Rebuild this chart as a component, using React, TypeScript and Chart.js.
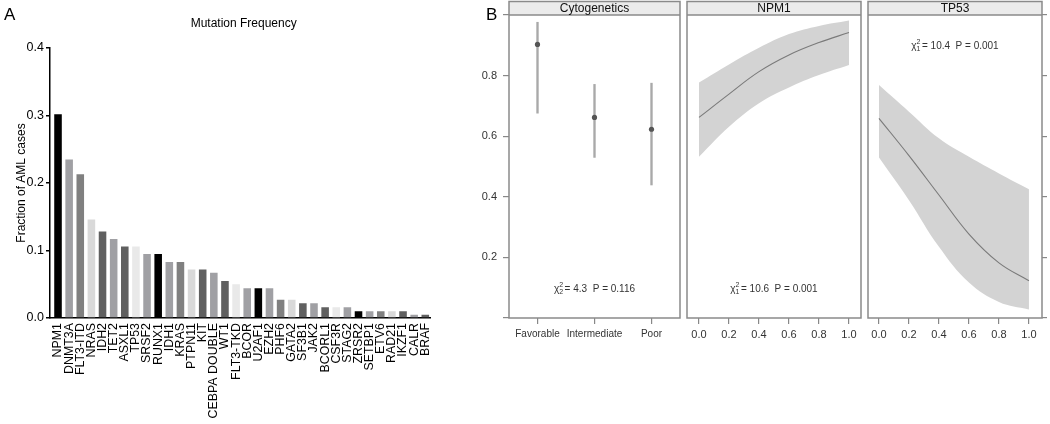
import React, { useEffect, useRef } from 'react';
import { Chart, registerables } from 'chart.js';

Chart.register(...registerables);

const FONT = "'Liberation Sans', Arial, Helvetica, sans-serif";

// ---------- Panel A data ----------
const genes = ['NPM1', 'DNMT3A', 'FLT3-ITD', 'NRAS', 'IDH2', 'TET2', 'ASXL1', 'TP53', 'SRSF2', 'RUNX1', 'IDH1', 'KRAS', 'PTPN11', 'KIT', 'CEBPA DOUBLE', 'WT1', 'FLT3-TKD', 'BCOR', 'U2AF1', 'EZH2', 'PHF6', 'GATA2', 'SF3B1', 'JAK2', 'BCORL1', 'CSF3R', 'STAG2', 'ZRSR2', 'SETBP1', 'ETV6', 'RAD21', 'IKZF1', 'CALR', 'BRAF'];
const frequencies = [0.302, 0.235, 0.213, 0.146, 0.128, 0.117, 0.106, 0.106, 0.095, 0.095, 0.083, 0.083, 0.072, 0.072, 0.067, 0.055, 0.050, 0.044, 0.044, 0.044, 0.027, 0.027, 0.022, 0.022, 0.016, 0.016, 0.016, 0.010, 0.010, 0.010, 0.010, 0.010, 0.005, 0.005];
const barShades = ['#000000', '#a0a0a4', '#808080', '#d9d9d9', '#606060', '#a0a0a4', '#606060', '#e9e9e9', '#a0a0a4'];
const freqTicks = [0, 0.1, 0.2, 0.3, 0.4];

// ---------- Panel B data ----------
const panelTitles = ['Cytogenetics', 'NPM1', 'TP53'];
const cytoGroups = ['Favorable', 'Intermediate', 'Poor'];
const cytoEstimate = [0.903, 0.662, 0.623];
const cytoLower = [0.676, 0.530, 0.439];
const cytoUpper = [0.976, 0.771, 0.775];

const vafGrid = [0, 0.2, 0.4, 0.6, 0.8, 1.0];
const npm1Fit = [0.662, 0.739, 0.813, 0.868, 0.909, 0.942];
const npm1Lower = [0.532, 0.631, 0.709, 0.761, 0.802, 0.835];
const npm1Upper = [0.777, 0.837, 0.892, 0.937, 0.964, 0.982];
const tp53Fit = [0.659, 0.536, 0.406, 0.277, 0.182, 0.123];
const tp53Lower = [0.530, 0.389, 0.235, 0.117, 0.053, 0.028];
const tp53Upper = [0.769, 0.681, 0.593, 0.532, 0.477, 0.425];

const probTicks = [0, 0.2, 0.4, 0.6, 0.8, 1.0];
const vafTicks = [0, 0.2, 0.4, 0.6, 0.8, 1.0];

const chiDf = ['2', '1', '1'];
const chiSq = ['4.3', '10.6', '10.4'];
const pValues = ['0.116', '0.001', '0.001'];

// annotation vertical anchors (in probability units)
const annotLevel = [0.098, 0.098, 0.9];

const FRAME = '#8a8a8a';
const TICK = '#888888';
const LABEL = '#333333';

const stripPlugin = {
  id: 'strip',
  beforeDraw(chart: any) {
    const { ctx, chartArea: a } = chart;
    ctx.save();
    ctx.fillStyle = '#ebebeb';
    ctx.fillRect(a.left, 1.5, a.right - a.left, a.top - 1.5);
    ctx.restore();
  },
  afterDraw(chart: any, _a: any, opts: any) {
    const { ctx, chartArea: a } = chart;
    ctx.save();
    ctx.strokeStyle = FRAME;
    ctx.lineWidth = 1.5;
    ctx.strokeRect(a.left, 1.5, a.right - a.left, a.bottom - 1.5);
    ctx.beginPath();
    ctx.moveTo(a.left, a.top);
    ctx.lineTo(a.right, a.top);
    ctx.stroke();
    // strip title
    ctx.fillStyle = '#111';
    ctx.font = `12px ${FONT}`;
    ctx.textAlign = 'center';
    ctx.textBaseline = 'middle';
    ctx.fillText(opts.title, (a.left + a.right) / 2, (1.5 + a.top) / 2 + 0.5);
    // chi-square annotation
    const cy = chart.scales.y.getPixelForValue(opts.level);
    const cx = (a.left + a.right) / 2;
    ctx.textAlign = 'left';
    ctx.textBaseline = 'alphabetic';
    ctx.fillStyle = LABEL;
    ctx.font = `10px ${FONT}`;
    const wChi = ctx.measureText('\u03c7').width;
    const rest = `= ${opts.chi}  P = ${opts.p}`;
    const wRest = ctx.measureText(rest).width;
    ctx.font = `7px ${FONT}`;
    const wScr = Math.max(ctx.measureText('2').width, ctx.measureText(opts.df).width);
    const total = wChi + wScr + 1.5 + wRest;
    let x = cx - total / 2;
    const base = cy + 3.5;
    ctx.font = `10px ${FONT}`;
    ctx.fillText('\u03c7', x, base);
    x += wChi;
    ctx.font = `7px ${FONT}`;
    ctx.fillText('2', x, base - 4.5);
    ctx.fillText(opts.df, x, base + 2.5);
    x += wScr + 1.5;
    ctx.font = `10px ${FONT}`;
    ctx.fillText(rest, x, base);
    ctx.restore();
  },
};

const setTicks = (vals: number[]) => (s: any) => {
  s.ticks = vals.map((v) => ({ value: v }));
};

function panelYScale(kind: 'left' | 'none' | 'right') {
  const base: any = {
    min: 0,
    max: 1,
    bounds: 'data',
    afterBuildTicks: setTicks(probTicks),
    grid: { drawOnChartArea: false, drawTicks: true, tickLength: kind === 'right' ? 5 : 6, color: TICK, lineWidth: 1.2 },
    border: { display: false },
  };
  if (kind === 'none') return { ...base, display: false };
  if (kind === 'right') {
    return { ...base, position: 'right', ticks: { display: false }, afterFit: (s: any) => { s.width = 8; } };
  }
  return {
    ...base,
    position: 'left',
    afterFit: (s: any) => { s.width = 29; },
    ticks: {
      padding: 6,
      color: LABEL,
      font: { family: FONT, size: 11 },
      callback: (v: any) => (v > 0.01 && v < 0.99 ? Number(v).toFixed(1) : ''),
    },
  };
}

function vafXScale(min: number, max: number) {
  return {
    type: 'linear',
    min,
    max,
    bounds: 'data',
    afterBuildTicks: setTicks(vafTicks),
    afterFit: (s: any) => { s.height = 32; },
    grid: { drawOnChartArea: false, drawTicks: true, tickLength: 6, color: TICK, lineWidth: 1.2 },
    border: { display: false },
    ticks: { padding: 4, maxRotation: 0, color: LABEL, font: { family: FONT, size: 11 }, callback: (v: any) => Number(v).toFixed(1) },
  };
}

function curveConfig(fit: number[], lower: number[], upper: number[], idx: number, xmin: number, xmax: number, pad: any, yKind: 'none' | 'right') {
  const pts = (arr: number[]) => vafGrid.map((x, i) => ({ x, y: arr[i] }));
  return {
    type: 'line',
    data: {
      datasets: [
        { data: pts(fit), borderWidth: 1.1, borderColor: '#7a7a7a', pointRadius: 0, fill: false, tension: 0.4 },
        { data: pts(upper), borderWidth: 0, pointRadius: 0, fill: '+1', backgroundColor: '#d3d3d3', tension: 0.4 },
        { data: pts(lower), borderWidth: 0, pointRadius: 0, fill: false, tension: 0.4 },
      ],
    },
    options: {
      responsive: false,
      animation: false,
      layout: { padding: pad },
      plugins: {
        legend: { display: false },
        tooltip: { enabled: false },
        strip: { title: panelTitles[idx], df: chiDf[idx], chi: chiSq[idx], p: pValues[idx], level: annotLevel[idx] },
      },
      scales: { x: vafXScale(xmin, xmax), y: panelYScale(yKind) },
    },
    plugins: [stripPlugin],
  } as any;
}

export default function App() {
  const refA = useRef<HTMLCanvasElement>(null);
  const ref1 = useRef<HTMLCanvasElement>(null);
  const ref2 = useRef<HTMLCanvasElement>(null);
  const ref3 = useRef<HTMLCanvasElement>(null);

  useEffect(() => {
    const charts: Chart[] = [];

    charts.push(
      new Chart(refA.current!, {
        type: 'bar',
        data: {
          datasets: [
            {
              data: frequencies.map((v, i) => ({ x: i, y: v })),
              backgroundColor: frequencies.map((_, i) => barShades[i % barShades.length]),
              barPercentage: 0.68,
              categoryPercentage: 1,
              borderWidth: 0,
            },
          ],
        },
        options: {
          responsive: false,
          animation: false,
          layout: { padding: { top: 48, right: 19.7, bottom: 0, left: 0 } },
          plugins: { legend: { display: false }, tooltip: { enabled: false } },
          scales: {
            x: {
              type: 'linear',
              min: -0.72,
              max: 33.45,
              offset: false,
              bounds: 'data',
              afterBuildTicks: setTicks(genes.map((_, i) => i)),
              afterFit: (s: any) => { s.height = 106; },
              grid: { display: true, drawOnChartArea: false, drawTicks: false },
              border: { display: true, color: '#000', width: 1.5 },
              ticks: {
                autoSkip: false,
                maxRotation: 90,
                minRotation: 90,
                padding: 5,
                color: '#000',
                font: { family: FONT, size: 12.4 },
                callback: (v: any) => genes[v] ?? '',
              },
            },
            y: {
              min: 0,
              max: 0.4,
              bounds: 'data',
              afterBuildTicks: setTicks(freqTicks),
              afterFit: (s: any) => { s.width = 50; },
              grid: { drawOnChartArea: false, drawTicks: true, tickLength: 4, color: '#000', lineWidth: 1.5 },
              border: { display: true, color: '#000', width: 1.5 },
              ticks: { padding: 2, color: '#000', font: { family: FONT, size: 12.5 }, callback: (v: any) => Number(v).toFixed(1) },
              title: { display: true, text: 'Fraction of AML cases', color: '#000', font: { family: FONT, size: 12 }, padding: { top: 14, bottom: 0 } },
            },
          },
        },
      } as any)
    );

    charts.push(
      new Chart(ref1.current!, {
        type: 'bar',
        data: {
          labels: cytoGroups,
          datasets: [
            { type: 'line', data: cytoEstimate, showLine: false, pointRadius: 2.6, pointBackgroundColor: '#555', pointBorderWidth: 0, order: 0 },
            { type: 'bar', data: cytoGroups.map((_, i) => [cytoLower[i], cytoUpper[i]]), backgroundColor: '#a9a9a9', barThickness: 1.7, borderWidth: 0, order: 1 },
          ],
        },
        options: {
          responsive: false,
          animation: false,
          layout: { padding: { top: 15, right: 5, bottom: 0, left: 0 } },
          plugins: {
            legend: { display: false },
            tooltip: { enabled: false },
            strip: { title: panelTitles[0], df: chiDf[0], chi: chiSq[0], p: pValues[0], level: annotLevel[0] },
          },
          scales: {
            x: {
              offset: true,
              afterFit: (s: any) => { s.height = 32; },
              grid: { offset: false, drawOnChartArea: false, drawTicks: true, tickLength: 6, color: TICK, lineWidth: 1.2 },
              border: { display: false },
              ticks: { padding: 4, maxRotation: 0, minRotation: 0, autoSkip: false, color: LABEL, font: { family: FONT, size: 10 } },
            },
            y: panelYScale('left'),
          },
        },
        plugins: [stripPlugin],
      } as any)
    );

    charts.push(new Chart(ref2.current!, curveConfig(npm1Fit, npm1Lower, npm1Upper, 1, -0.08, 1.08, { top: 15, right: 4, bottom: 0, left: 2 }, 'none')));
    charts.push(new Chart(ref3.current!, curveConfig(tp53Fit, tp53Lower, tp53Upper, 2, -0.073, 1.087, { top: 15, right: 0, bottom: 0, left: 3 }, 'right')));

    return () => charts.forEach((c) => c.destroy());
  }, []);

  const abs = (left: number, top: number): React.CSSProperties => ({ position: 'absolute', left, top });

  return (
    <div style={{ position: 'fixed', left: 0, top: 0, width: 1050, height: 424, background: '#fff', overflow: 'hidden', fontFamily: FONT }}>
      <canvas ref={refA} width={450} height={424} style={abs(0, 0)} />
      <canvas ref={ref1} width={205} height={350} style={abs(480, 0)} />
      <canvas ref={ref2} width={180} height={350} style={abs(685, 0)} />
      <canvas ref={ref3} width={185} height={350} style={abs(865, 0)} />
      <div style={{ ...abs(4, 6), fontSize: 17, lineHeight: '17px', color: '#000' }}>A</div>
      <div style={{ ...abs(486, 6), fontSize: 17, lineHeight: '17px', color: '#000' }}>B</div>
      <div style={{ ...abs(93.7, 16.5), width: 300, textAlign: 'center', fontSize: 12, lineHeight: '12px', color: '#000' }}>Mutation Frequency</div>
    </div>
  );
}
